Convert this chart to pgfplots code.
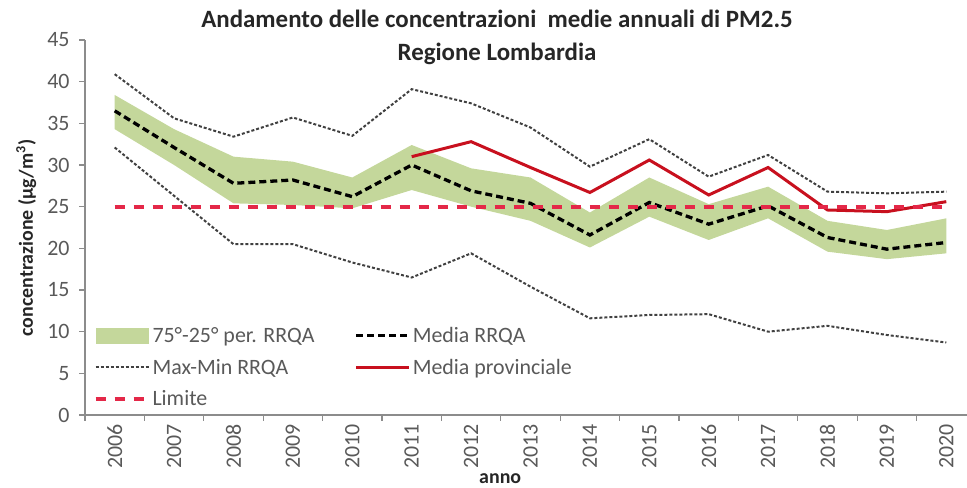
\documentclass[border=0pt]{standalone}
\usepackage{fontspec}
\setmainfont{Carlito}
\usepackage{pgfplots}
\pgfplotsset{compat=1.18}
\usepgfplotslibrary{fillbetween}
\definecolor{bandgreen}{RGB}{196,215,155}
\definecolor{provred}{RGB}{200,16,30}
\definecolor{limred}{RGB}{228,40,72}
\definecolor{maxgray}{RGB}{64,64,64}
\definecolor{tickgray}{RGB}{89,89,89}
\definecolor{axgray}{RGB}{140,140,140}
\definecolor{titlecol}{RGB}{38,38,38}
\begin{document}
\begin{tikzpicture}
\begin{axis}[
  at={(85bp,73bp)}, anchor=south west,
  scale only axis, width=891bp, height=375bp,
  xmin=-0.5, xmax=14.5, ymin=0, ymax=45,
  axis x line*=bottom, axis y line*=left,
  axis line style={draw=axgray, line width=1.2bp},
  tick align=outside,
  xtick={0,...,14},
  xticklabels={2006,2007,2008,2009,2010,2011,2012,2013,2014,2015,2016,2017,2018,2019,2020},
  minor xtick={-0.5,0.5,...,14.5},
  major x tick style={draw=none},
  minor x tick style={draw=axgray, line width=1.2bp},
  ytick={0,5,...,45},
  major y tick style={draw=axgray, line width=1.2bp},
  major tick length=6bp, minor tick length=6bp,
  /pgf/number format/assume math mode=true,
  ticklabel style={font=\fontsize{22}{26}\selectfont, text=tickgray},
  xticklabel style={rotate=90, anchor=east},
  yticklabel style={xshift=-6bp},
  title={Andamento delle concentrazioni\ \ medie annuali di PM2.5\\Regione Lombardia},
  title style={at={(axis description cs:0.4624,0.99)}, anchor=center, align=center,
    font=\fontsize{25}{33}\selectfont\bfseries, text=titlecol},
  ylabel={concentrazione (µg/m\textsuperscript{3})},
  ylabel style={at={(axis description cs:-0.0660,0.472)}, anchor=center,
    font=\fontsize{20}{24}\selectfont\bfseries, text=titlecol},
  xlabel={anno},
  xlabel style={at={(axis description cs:0.466,-0.192)}, anchor=south,
    font=\fontsize{20}{24}\selectfont\bfseries, text=titlecol},
  legend columns=2,
  legend cell align=left,
  legend style={at={(0.006,0.245)}, anchor=north west, draw=none, fill=none,
    font=\fontsize{22}{26}\selectfont, text=tickgray, row sep=11bp,
    /tikz/column 2/.style={column sep=38bp}},
  legend image code/.code={\draw[#1] (0bp,0bp) -- (53bp,0bp);},
]
% 75th and 25th percentile band
\addplot[name path=p75, draw=none, forget plot] coordinates {
(0,38.4) (1,34.3) (2,31.0) (3,30.4) (4,28.5) (5,32.4) (6,29.6) (7,28.5)
(8,24.3) (9,28.5) (10,25.3) (11,27.4) (12,23.3) (13,22.2) (14,23.6)};
\addplot[name path=p25, draw=none, forget plot] coordinates {
(0,34.3) (1,30.0) (2,25.4) (3,25.2) (4,24.8) (5,27.0) (6,25.0) (7,23.3)
(8,20.1) (9,23.8) (10,21.0) (11,23.6) (12,19.6) (13,18.7) (14,19.4)};
\addplot[fill=bandgreen, draw=none,
  legend image code/.code={\fill[bandgreen] (0bp,-8bp) rectangle (53bp,8bp);}]
  fill between[of=p75 and p25];
\addlegendentry{75°-25° per. RRQA}
% Media RRQA
\addplot[black, line width=3.3bp, dash pattern=on 7bp off 4bp] coordinates {
(0,36.5) (1,32.1) (2,27.8) (3,28.2) (4,26.2) (5,30.0) (6,26.9) (7,25.4)
(8,21.6) (9,25.5) (10,22.9) (11,25.1) (12,21.3) (13,19.9) (14,20.7)};
\addlegendentry{Media RRQA}
% Max
\addplot[maxgray, line width=2bp, dash pattern=on 3bp off 2bp] coordinates {
(0,40.9) (1,35.6) (2,33.4) (3,35.7) (4,33.5) (5,39.1) (6,37.4) (7,34.5)
(8,29.8) (9,33.1) (10,28.6) (11,31.2) (12,26.8) (13,26.6) (14,26.8)};
\addlegendentry{Max-Min RRQA}
% Media provinciale
\addplot[provred, line width=3bp] coordinates {
(5,31.0) (6,32.8) (7,29.7) (8,26.7) (9,30.6) (10,26.4) (11,29.7) (12,24.6) (13,24.4) (14,25.6)};
\addlegendentry{Media provinciale}
% Min
\addplot[maxgray, line width=2bp, dash pattern=on 3bp off 2bp, forget plot] coordinates {
(0,32.1) (1,26.3) (2,20.5) (3,20.5) (4,18.3) (5,16.5) (6,19.4) (7,15.4)
(8,11.6) (9,12.0) (10,12.1) (11,10.0) (12,10.7) (13,9.6) (14,8.7)};
% Limite
\addplot[limred, line width=4bp, dash pattern=on 10bp off 9bp] coordinates {(0,25) (14,25)};
\addlegendentry{Limite}
\end{axis}
\pgfresetboundingbox
\path[use as bounding box] (0,0) rectangle (967bp,488bp);
\end{tikzpicture}
\end{document}
